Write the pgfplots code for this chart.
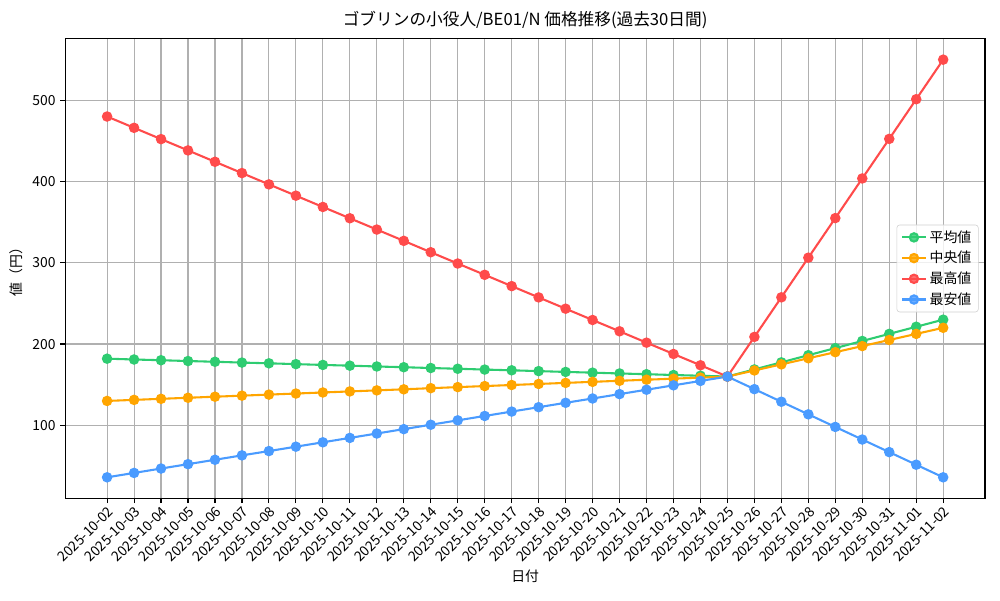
\documentclass[border=0pt]{standalone}
\usepackage{fontspec}
\setmainfont{Noto Sans CJK JP}
\usepackage{pgfplots}
\usepackage{pgfplotstable}
\pgfplotsset{compat=1.18}

\definecolor{avgC}{HTML}{2ECC71}
\definecolor{medC}{HTML}{FFA500}
\definecolor{maxC}{HTML}{FF4B4B}
\definecolor{minC}{HTML}{4A9BFF}
\definecolor{gridC}{HTML}{B0B0B0}

% idx: 0 = 2025-10-02 ... 31 = 2025-11-02
\pgfplotstableread{
idx avg med max min
0  182.0 130.0 480.0  36.0
1  181.0 131.3 466.1  41.4
2  180.1 132.6 452.2  46.8
3  179.1 133.9 438.3  52.2
4  178.2 135.2 424.3  57.6
5  177.2 136.5 410.4  63.0
6  176.3 137.8 396.5  68.3
7  175.3 139.1 382.6  73.7
8  174.3 140.4 368.7  79.1
9  173.4 141.7 354.8  84.5
10 172.4 143.0 340.9  89.9
11 171.5 144.3 327.0  95.3
12 170.5 145.7 313.0 100.7
13 169.6 147.0 299.1 106.1
14 168.6 148.3 285.2 111.5
15 167.7 149.6 271.3 116.9
16 166.7 150.9 257.4 122.3
17 165.7 152.2 243.5 127.7
18 164.8 153.5 229.6 133.0
19 163.8 154.8 215.7 138.4
20 162.9 156.1 201.7 143.8
21 161.9 157.4 187.8 149.2
22 161.0 158.7 173.9 154.6
23 160.0 160.0 160.0 160.0
24 168.8 167.5 208.8 144.5
25 177.5 175.0 257.5 129.0
26 186.3 182.5 306.3 113.5
27 195.0 190.0 355.0  98.0
28 203.8 197.5 403.8  82.5
29 212.5 205.0 452.5  67.0
30 221.3 212.5 501.3  51.5
31 230.0 220.0 550.0  36.0
}\prices

\begin{document}
\begin{tikzpicture}
\useasboundingbox (-47pt,-73.4pt) rectangle (672.8pt,358.6pt);
\begin{axis}[
    name=ax,
    at={(0,0)}, anchor=south west,
    scale only axis,
    width=662pt, height=330.7pt,
    xmin=-1.55, xmax=32.55,
    ymin=10.3, ymax=575.7,
    xtick={0,...,31},
    xticklabels={2025-10-02,2025-10-03,2025-10-04,2025-10-05,2025-10-06,2025-10-07,2025-10-08,2025-10-09,2025-10-10,2025-10-11,2025-10-12,2025-10-13,2025-10-14,2025-10-15,2025-10-16,2025-10-17,2025-10-18,2025-10-19,2025-10-20,2025-10-21,2025-10-22,2025-10-23,2025-10-24,2025-10-25,2025-10-26,2025-10-27,2025-10-28,2025-10-29,2025-10-30,2025-10-31,2025-11-01,2025-11-02},
    ytick={100,200,300,400,500},
    xticklabel style={rotate=45, anchor=north east, font=\fontsize{10}{12}\selectfont, inner sep=1pt},
    yticklabel style={font=\fontsize{10}{12}\selectfont},
    /pgf/number format/assume math mode=true,
    tick align=outside,
    major tick length=3.5pt,
    tick style={black, line width=0.8pt},
    axis line style={line width=0.8pt},
    xtick pos=bottom, ytick pos=left,
    grid=major,
    major grid style={gridC, line width=0.8pt},
    xlabel={日付},
    ylabel={値（円）},
    label style={font=\fontsize{10}{12}\selectfont},
    title={ゴブリンの小役人/BE01/N 価格推移(過去30日間)},
    title style={font=\fontsize{12}{14}\selectfont, yshift=-2pt},
    every axis plot/.append style={line width=1.5pt, mark=*, mark size=3pt},
    legend style={at={(0.993,0.5)}, anchor=east, draw=gridC!60, rounded corners=2pt,
        fill=white, fill opacity=0.8, text opacity=1, font=\fontsize{10}{12}\selectfont,
        row sep=1pt},
    legend cell align=left,
]
\addplot[color=avgC, mark options={fill=avgC}] table[x=idx, y=avg] {\prices};
\addlegendentry{平均値}
\addplot[color=medC, mark options={fill=medC}] table[x=idx, y=med] {\prices};
\addlegendentry{中央値}
\addplot[color=maxC, mark options={fill=maxC}] table[x=idx, y=max] {\prices};
\addlegendentry{最高値}
\addplot[color=minC, mark options={fill=minC}] table[x=idx, y=min] {\prices};
\addlegendentry{最安値}
\end{axis}
\end{tikzpicture}
\end{document}
